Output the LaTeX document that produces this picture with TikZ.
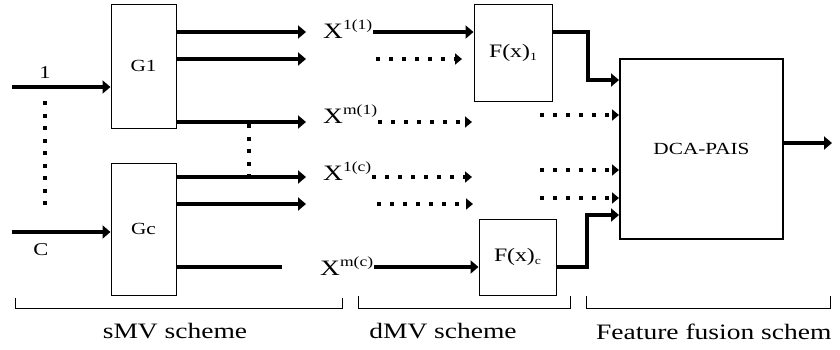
\documentclass[tikz,border=0pt]{standalone}
\usepackage{fontspec}
\setmainfont{Liberation Serif}[FakeStretch=1.25]
\usepackage{tikz}
\usetikzlibrary{arrows.meta}

\newcommand{\Xview}[1]{X\raisebox{9pt}{\fontsize{14}{14}\selectfont #1}}
\newcommand{\Fview}[1]{{\fontsize{19}{20}\selectfont F(x)}\raisebox{-3pt}{\fontsize{11}{11}\selectfont #1}}

\begin{document}
\begin{tikzpicture}[x=1pt,y=-1pt,
    blk/.style={draw,line width=1pt,inner sep=0pt,font=\fontsize{17}{20}\selectfont},
    big/.style={font=\fontsize{22}{26}\selectfont,inner sep=1pt},
    lbl/.style={font=\fontsize{18}{20}\selectfont,inner sep=0pt},
    flow/.style={line width=3.6pt,-{Triangle[length=8pt,width=13pt]}},
    dots/.style={line width=4pt,dash pattern=on 4pt off 9pt,-{Triangle[length=7pt,width=11pt]}},
    vdots/.style={line width=3.5pt,dash pattern=on 4pt off 8.5pt},
    brace/.style={line width=1pt}]
  \useasboundingbox (0,0) rectangle (840,349);

  % blocks
  \node[blk,minimum width=65pt,minimum height=124pt] (G1) at (143.5,66) {G1};
  \node[blk,minimum width=65pt,minimum height=132pt] (Gc) at (143.5,229) {Gc};
  \node[blk,minimum width=78pt,minimum height=97pt] (F1) at (513,52.5) {\Fview{1}};
  \node[blk,minimum width=77pt,minimum height=76pt] (Fc) at (517.5,257) {\Fview{c}};
  \node[blk,line width=2pt,minimum width=163pt,minimum height=180pt] (DCA) at (701.5,149) {DCA-PAIS};

  % views
  \node[big,anchor=base west] (X11) at (322,38) {\Xview{1(1)}};
  \node[big,anchor=base west] (Xm1) at (322,123) {\Xview{m(1)}};
  \node[big,anchor=base west] (X1c) at (322,180) {\Xview{1(c)}};
  \node[big,anchor=base west] (Xmc) at (319,275) {\Xview{m(c)}};

  \node[lbl] (n1) at (45,73) {1};
  \node[lbl] (nC) at (41,250) {C};

  \coordinate (in1) at (12,87);
  \coordinate (inC) at (12,232);
  \coordinate (o1) at (306,32);
  \coordinate (o2) at (306,59);
  \coordinate (o3) at (306,122);
  \coordinate (o4) at (306,177);
  \coordinate (o5) at (306,204);
  \coordinate (o6) at (282,267);
  \coordinate (m2) at (376,59);
  \coordinate (m5) at (377,204);
  \coordinate (j1) at (588,80);
  \coordinate (j2) at (587,215);
  \coordinate (r1) at (540,115);
  \coordinate (r2) at (540,170);
  \coordinate (r3) at (540,198);
  \coordinate (out) at (832,143);

  \path[flow]
    (in1) edge (G1.west |- in1)
    (inC) edge (Gc.west |- inC)
    (G1.east |- o1) edge (o1)
    (G1.east |- o2) edge (o2)
    (G1.east |- o3) edge (o3)
    (Gc.east |- o4) edge (o4)
    (Gc.east |- o5) edge (o5)
    (Gc.east |- o6) edge [-] (o6)
    (X11.east |- o1) edge (F1.west |- o1)
    (Xmc.east |- o6) edge (Fc.west |- o6)
    (DCA.east |- out) edge (out);
  \draw[flow] (F1.east |- o1) -| (j1) -- (DCA.west |- j1);
  \draw[flow] (Fc.east |- o6) -| (j2) -- (DCA.west |- j2);

  \path[dots]
    (m2) edge (462,59)
    (Xm1.east |- o3) edge (472,122)
    (X1c.east |- o4) edge (472,177)
    (m5) edge (473,204)
    (r1) edge (DCA.west |- r1)
    (r2) edge (DCA.west |- r2)
    (r3) edge (DCA.west |- r3);

  \draw[vdots] (45,101) -- (45,205);
  \draw[vdots] (249,124) -- (249,178);

  % schemes
  \draw[brace] (15,298) |- (342,308) -- (342,298);
  \draw[brace] (358,296) |- (570,308) -- (570,296);
  \draw[brace] (586,296) |- (830,308) -- (830,296);
  \node[big,anchor=base] (sMV) at (175,338) {sMV scheme};
  \node[big,anchor=base] (dMV) at (443,338) {dMV scheme};
  \node[big,anchor=base west] (FF) at (595,339) {Feature fusion schem};
\end{tikzpicture}
\end{document}
